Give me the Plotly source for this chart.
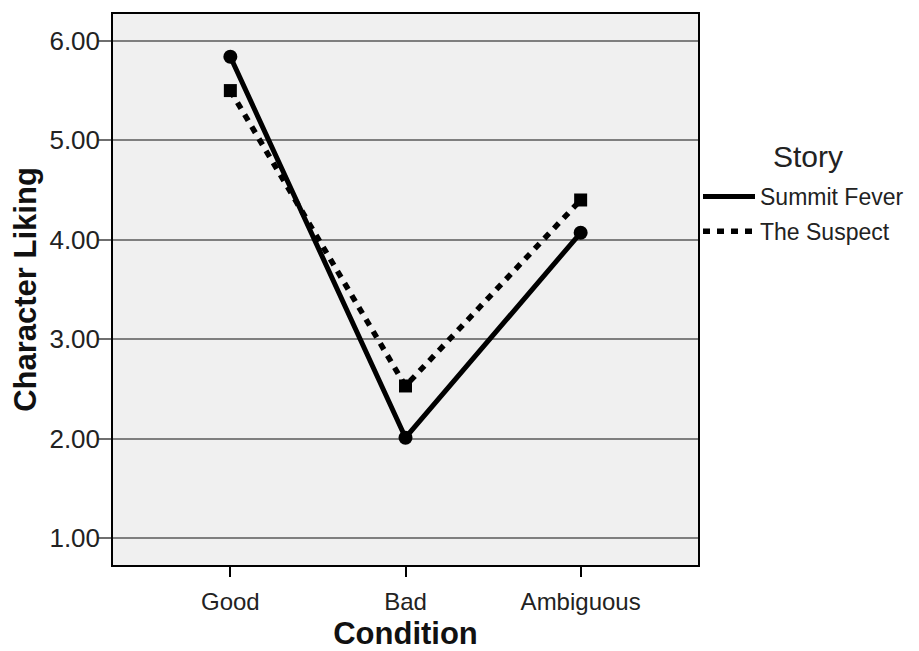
import plotly.graph_objects as go

conditions = ["Good", "Bad", "Ambiguous"]
summit_fever = [5.84, 2.01, 4.07]
the_suspect = [5.50, 2.53, 4.40]
y_ticks = [1, 2, 3, 4, 5, 6]
y_tick_labels = ["1.00", "2.00", "3.00", "4.00", "5.00", "6.00"]
series_names = ["Summit Fever", "The Suspect"]
legend_title = "Story"

FONT = "Liberation Sans, Arial, sans-serif"
SOLID = dict(color="black", width=5)
DOTTED = dict(color="black", width=5.5, dash="7px,7px")

fig = go.Figure()
fig.add_trace(go.Scatter(
    x=conditions, y=summit_fever, name=series_names[0], mode="lines+markers",
    line=SOLID, marker=dict(symbol="circle", size=14, color="black"),
    showlegend=False,
))
fig.add_trace(go.Scatter(
    x=conditions, y=the_suspect, name=series_names[1], mode="lines+markers",
    line=DOTTED, marker=dict(symbol="square", size=13, color="black"),
    showlegend=False,
))
# legend entries (line samples only, as in the reference)
fig.add_trace(go.Scatter(x=[None], y=[None], name=series_names[0], mode="lines",
                         line=SOLID, legendgroup="a"))
fig.add_trace(go.Scatter(x=[None], y=[None], name=series_names[1], mode="lines",
                         line=DOTTED, legendgroup="b"))

fig.add_annotation(
    text=legend_title, xref="paper", yref="paper", x=1.188, y=0.741,
    xanchor="center", yanchor="middle", showarrow=False,
    font=dict(size=30, family=FONT, color="#222"),
)

fig.update_layout(
    width=919, height=651,
    margin=dict(l=105, r=229, t=4, b=94),
    paper_bgcolor="white",
    plot_bgcolor="#f0f0f0",
    font=dict(family=FONT, color="#222222", size=23),
    showlegend=True,
    legend=dict(
        x=1.0, xanchor="left", y=0.637, yanchor="middle",
        bgcolor="rgba(0,0,0,0)",
        font=dict(size=23, family=FONT, color="#222"),
        itemwidth=52,
        traceorder="grouped",
        tracegroupgap=2,
    ),
    xaxis=dict(
        type="category",
        range=[-0.67, 2.67],
        showgrid=False,
        showline=True, linecolor="black", linewidth=1.5, mirror=True,
        ticks="outside", ticklen=10, tickwidth=1.5, tickcolor="black",
        ticklabelstandoff=4,
        tickfont=dict(size=24, family=FONT, color="#222"),
        title=dict(text="<b>Condition</b>", font=dict(size=31, family=FONT, color="#111"), standoff=9),
        zeroline=False,
    ),
    yaxis=dict(
        range=[0.73, 6.27],
        tickvals=y_ticks, ticktext=y_tick_labels,
        showgrid=True, gridcolor="#7f7f7f", gridwidth=2,
        showline=True, linecolor="black", linewidth=1.5, mirror=True,
        ticks="outside", ticklen=13, tickwidth=2, tickcolor="#6f6f6f",
        ticklabelstandoff=-7,
        tickfont=dict(size=26, family=FONT, color="#222"),
        title=dict(text="<b>Character Liking</b>", font=dict(size=31, family=FONT, color="#111"), standoff=8),
        zeroline=False,
    ),
)

fig.write_html("out.html")
